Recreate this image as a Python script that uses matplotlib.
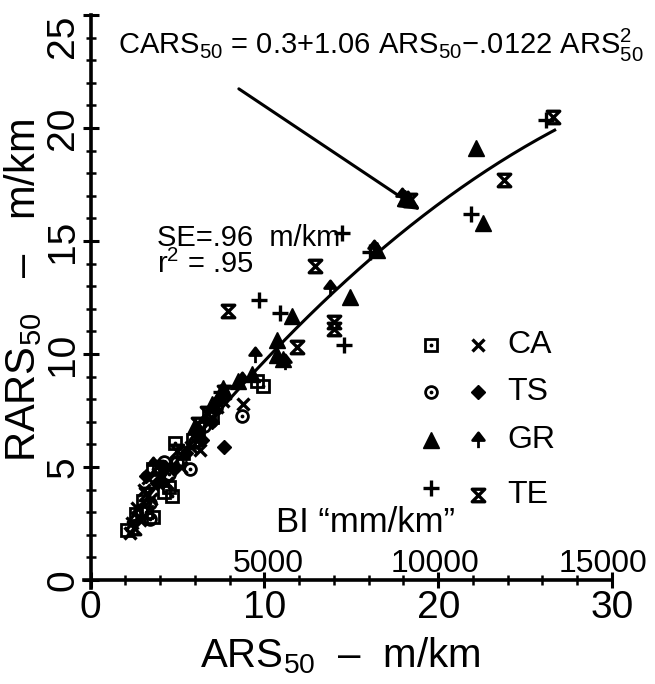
import numpy as np
import matplotlib
matplotlib.use('Agg')
import matplotlib.pyplot as plt
from matplotlib.path import Path

plt.rcParams['font.family'] = ['Liberation Sans', 'DejaVu Sans']
plt.rcParams['mathtext.fontset'] = 'custom'
plt.rcParams['mathtext.rm'] = 'Liberation Sans'
plt.rcParams['mathtext.it'] = 'Liberation Sans:italic'
plt.rcParams['mathtext.bf'] = 'Liberation Sans:bold'

# dados (ARS50, RARS50) em m/km
ca_sq_x = [2.1, 3.6, 4.5, 4.7, 4.85, 3.6, 9.9, 9.6, 5.9, 6.8, 4.2, 3.0, 2.6, 3.2, 5.3, 6.2, 7.0]
ca_sq_y = [2.2, 2.8, 4.1, 3.7, 6.05, 4.9, 8.6, 8.8, 6.2, 7.4, 3.9, 3.5, 2.9, 3.0, 5.6, 6.4, 7.2]
ca_x_x = [2.3, 2.85, 2.7, 6.3, 8.8, 5.2, 3.3, 4.0, 6.9, 7.3, 2.4, 3.1, 4.4, 5.8, 7.6, 3.5]
ca_x_y = [2.1, 2.65, 3.2, 5.75, 7.8, 5.0, 4.5, 4.6, 7.1, 7.65, 2.5, 4.0, 4.3, 5.9, 7.9, 3.6]
ts_circ_x = [3.4, 5.7, 8.7, 3.4, 5.0, 6.5, 4.2, 2.9, 4.5, 6.0, 7.2]
ts_circ_y = [3.4, 4.9, 7.25, 2.7, 5.2, 6.8, 5.2, 3.1, 4.7, 6.1, 7.6]
ts_diam_x = [7.7, 6.1, 4.8, 5.5, 3.8, 7.0, 3.2, 4.3, 6.4, 7.4]
ts_diam_y = [5.9, 6.6, 4.9, 5.6, 4.3, 7.0, 4.6, 5.0, 6.2, 8.0]
gr_tri_x = [9.3, 10.7, 10.7, 11.1, 11.6, 14.9, 16.5, 18.1, 22.2, 22.6, 8.5, 7.0, 7.6, 6.0]
gr_tri_y = [9.1, 10.6, 9.95, 9.8, 11.7, 12.5, 14.6, 16.9, 19.1, 15.8, 8.8, 7.8, 8.5, 6.8]
gr_arr_x = [8.7, 9.45, 11.2, 13.8, 16.3, 17.9, 6.5, 3.6]
gr_arr_y = [8.85, 9.95, 9.65, 12.9, 14.7, 17.0, 7.0, 5.1]
te_plus_x = [9.7, 10.9, 14.45, 14.6, 16.1, 21.9, 26.2, 7.5]
te_plus_y = [12.4, 11.8, 15.35, 10.4, 14.5, 16.2, 20.35, 8.3]
te_hour_x = [7.9, 7.7, 11.9, 12.9, 14.0, 14.0, 23.8, 26.6, 18.4, 2.5, 3.8, 6.7, 3.2, 5.0, 6.2]
te_hour_y = [11.9, 8.3, 10.3, 13.9, 11.4, 11.1, 17.7, 20.5, 16.8, 2.3, 5.0, 7.4, 3.8, 5.7, 6.9]

# curva ajustada: CARS50 = 0.3 + 1.06 ARS50 - .0122 ARS50^2
coef = [0.3, 1.06, -0.0122]
ars_min, ars_max = 2.4, 26.7

grupos = ['CA', 'TS', 'GR', 'TE']
bi_ticks = [5000, 10000, 15000]
bi_pos = [10.2, 19.8, 29.5]

hourglass = Path([(-1, 1), (1, 1), (-1, -1), (1, -1), (-1, 1)],
                 [Path.MOVETO, Path.LINETO, Path.LINETO, Path.LINETO, Path.CLOSEPOLY])
arrow_up = Path([(-1, 0), (1, 0), (0, 1.3), (-1, 0), (0, 0), (0, -1.3)],
                [Path.MOVETO, Path.LINETO, Path.LINETO, Path.CLOSEPOLY, Path.MOVETO, Path.LINETO])

estilos = {
    'ca_sq': [dict(marker='s', ms=8.5, mfc='none', mew=2), dict(marker='.', ms=3.5)],
    'ca_x': [dict(marker='x', ms=8.5, mew=2.4)],
    'ts_circ': [dict(marker='o', ms=8.5, mfc='none', mew=2), dict(marker='.', ms=3.5)],
    'ts_diam': [dict(marker='D', ms=7, mew=1)],
    'gr_tri': [dict(marker='^', ms=11, mew=1)],
    'gr_arr': [dict(marker=arrow_up, ms=11, mew=2)],
    'te_plus': [dict(marker='+', ms=11, mew=2.4)],
    'te_hour': [dict(marker=hourglass, ms=9, mfc='none', mew=2.4)],
}

fig = plt.figure(figsize=(6.55, 6.84), dpi=100)
ax = fig.add_axes([0.1289, 0.1405, 0.8055, 0.8376])
ax.set_xlim(-0.35, 30)
ax.set_ylim(-0.35, 25)


def pontos(x, y, chave):
    for st in estilos[chave]:
        ax.plot(x, y, ls='none', color='k', mec='k', clip_on=False, **st)


pontos(ca_sq_x, ca_sq_y, 'ca_sq')
pontos(ca_x_x, ca_x_y, 'ca_x')
pontos(ts_circ_x, ts_circ_y, 'ts_circ')
pontos(ts_diam_x, ts_diam_y, 'ts_diam')
pontos(gr_tri_x, gr_tri_y, 'gr_tri')
pontos(gr_arr_x, gr_arr_y, 'gr_arr')
pontos(te_plus_x, te_plus_y, 'te_plus')
pontos(te_hour_x, te_hour_y, 'te_hour')

xs = np.linspace(ars_min, ars_max, 200)
ax.plot(xs, coef[0] + coef[1] * xs + coef[2] * xs ** 2, color='k', lw=2.2)

# eixos
for s in ['top', 'right']:
    ax.spines[s].set_visible(False)
ax.spines['left'].set_position(('data', 0))
ax.spines['bottom'].set_position(('data', 0))
for s in ['left', 'bottom']:
    ax.spines[s].set_linewidth(2.6)
ax.set_xticks([0, 10, 20, 30])
ax.set_xticks(np.arange(0, 31, 2), minor=True)
ax.set_yticks([0, 5, 10, 15, 20, 25])
ax.set_yticks(np.arange(0, 26, 1), minor=True)
ax.tick_params(which='major', direction='inout', length=11, width=2.2, labelsize=28)
ax.tick_params(which='minor', direction='inout', length=6.5, width=1.8)
ax.tick_params(axis='x', pad=2)
ax.tick_params(axis='y', labelrotation=90, pad=1)
ylabs = ax.get_yticklabels()
for lb in ylabs:
    lb.set_va('center')
ylabs[-1].set_va('top')

fig.text(0.52, 0.042, 'ARS$_{50}$  –  m/km', fontsize=29, ha='center', va='center')
fig.text(0.036, 0.575, 'RARS$_{50}$   –   m/km', fontsize=30, ha='center', va='center', rotation=90)

# textos internos
ax.text(1.6, 23.65, 'CARS$_{50}$ = 0.3+1.06 ARS$_{50}$−.0122 ARS$^{2}_{50}$', fontsize=21,
        ha='left', va='center')
ax.annotate('', xy=(19.1, 16.3), xytext=(8.4, 21.8),
            arrowprops=dict(arrowstyle='-|>', lw=2.2, color='k', mutation_scale=30))
ax.text(3.8, 15.15, 'SE=.96  m/km', fontsize=21, ha='left', va='center')
ax.text(3.8, 13.95, 'r$^2$ = .95', fontsize=21, ha='left', va='center')
ax.text(15.8, 2.55, 'BI “mm/km”', fontsize=25, ha='center', va='center')
for v, p in zip(bi_ticks, bi_pos):
    ax.text(p, 0.7, str(v), fontsize=23, ha='center', va='center')

# legenda manual
linhas_y = [10.4, 8.3, 6.2, 3.75]
pares = [('ca_sq', 'ca_x'), ('ts_circ', 'ts_diam'), ('gr_tri', 'gr_arr'), ('te_plus', 'te_hour')]
for g, yy, (m1, m2) in zip(grupos, linhas_y, pares):
    pontos([19.6], [yy + (0.3 if m1 == 'te_plus' else 0)], m1)
    pontos([22.3], [yy], m2)
    ax.text(24.0, yy, g, fontsize=23, ha='left', va='center')

fig.savefig('out.png', dpi=100, facecolor='white')
